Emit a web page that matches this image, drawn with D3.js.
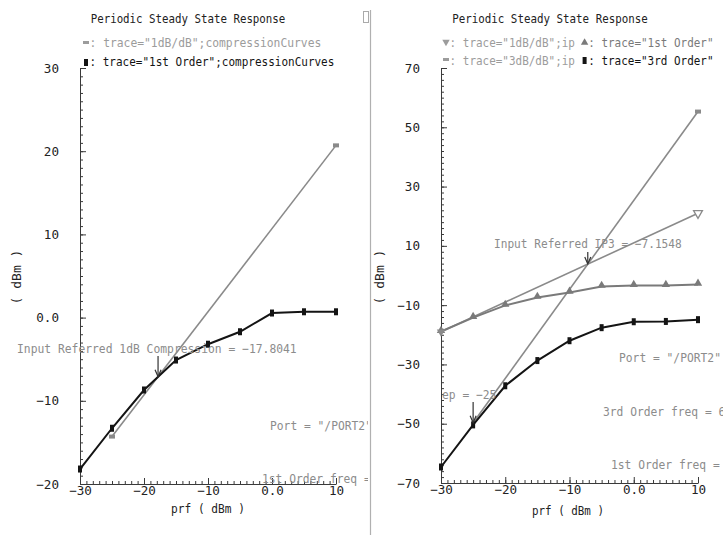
<!DOCTYPE html>
<html><head><meta charset="utf-8">
<script src="https://cdn.jsdelivr.net/npm/d3@7"></script>
<style>
body{margin:0;background:#fff}
svg{display:block}
text{font-family:"DejaVu Sans Mono","Liberation Mono",monospace}
</style>
</head><body>
<svg id="c" width="723" height="535"></svg>
<script>
// ---------- data ----------
const prf = [-30, -25, -20, -15, -10, -5, 0, 5, 10];
// left: compression curves
const compFirstOrder = [-18.2, -13.3, -8.7, -5.1, -3.2, -1.7, 0.55, 0.7, 0.7];
const compLinearX = [-25, 10];
const compLinear = [-14.3, 20.7];
const compPoint = -17.8041;
// right: IP3
const ip1stOrder = [-18.9, -14.2, -10.1, -7.4, -5.7, -3.7, -3.4, -3.4, -3.0];
const ip3rdOrder = [-64.6, -50.4, -37.2, -28.7, -22.0, -17.6, -15.6, -15.5, -14.9];
const ip1dBX = [-30, 10];
const ip1dB = [-19.0, 21.0];
const ip3dBX = [-25, 10];
const ip3dB = [-49.7, 55.3];
const ip3Point = -7.1548;
const interceptPoint = -25;
// ticks
const xTicks = [-30, -20, -10, 0, 10];
const xTickLabels = ["\u221230", "\u221220", "\u221210", "0.0", "10"];
const leftYTicks = [30, 20, 10, 0, -10, -20];
const leftYTickLabels = ["30", "20", "10", "0.0", "\u221210", "\u221220"];
const rightYTicks = [70, 50, 30, 10, -10, -30, -50, -70];
const rightYTickLabels = ["70", "50", "30", "10", "\u221210", "\u221230", "\u221250", "\u221270"];

const BLACK = "#141414", GRAY = "#8a8a8a", LGRAY = "#9c9c9c", AX = "#3a3a3a", ANN = "#8c8c8c";
const FONT = '"DejaVu Sans Mono","Liberation Mono",monospace';
const ADV = 0.602; // DejaVu Sans Mono advance per em
const svg = d3.select("#c");
svg.append("rect").attr("width", 723).attr("height", 535).attr("fill", "#fff");

const defs = svg.append("defs");
defs.append("clipPath").attr("id", "clipL").append("rect").attr("x", 0).attr("y", 0).attr("width", 368).attr("height", 535);
defs.append("clipPath").attr("id", "clipRp").append("rect").attr("x", 441).attr("y", 0).attr("width", 282).attr("height", 535);

// separator
svg.append("line").attr("x1", 370.5).attr("x2", 370.5).attr("y1", 10).attr("y2", 535)
  .attr("stroke", "#b0b0b0").attr("stroke-width", 1.2);
svg.append("rect").attr("x", 363.5).attr("y", 11.5).attr("width", 5).attr("height", 11)
  .attr("fill", "none").attr("stroke", "#aaa").attr("stroke-width", 1);

// text helper: target width w (px) or per-char advance adv; glyph height kept like a 12.5px font
function T(g, x, y, s, o = {}) {
  const base = o.size || 12.5;
  const w = o.w || (o.adv ? s.length * o.adv : null);
  const fs = w ? w / (s.length * ADV) : base;
  const k = base / fs;
  return g.append("text").attr("transform", `translate(${x},${y}) scale(1,${k.toFixed(4)})`)
    .text(s).attr("font-size", fs.toFixed(3)).attr("fill", o.fill || "#222")
    .attr("text-anchor", o.anchor || "start");
}

function axes(g, x, y, yTicks, yLabels, yMinorStep, yDomain) {
  const xMinor = d3.range(-30, 10.001, 1);
  const yMinor = d3.range(yDomain[0], yDomain[1] + 0.001, yMinorStep);
  const y0 = y(yDomain[0]);
  g.append("g").attr("transform", `translate(0,${y0})`)
    .call(d3.axisBottom(x).tickValues(xMinor).tickSize(-3).tickFormat(""))
    .call(a => a.select(".domain").remove())
    .call(a => a.selectAll("line").attr("stroke", AX));
  g.append("g").attr("transform", `translate(${x(-30)},0)`)
    .call(d3.axisLeft(y).tickValues(yMinor).tickSize(-3).tickFormat(""))
    .call(a => a.select(".domain").remove())
    .call(a => a.selectAll("line").attr("stroke", AX));
  g.append("g").attr("transform", `translate(0,${y0})`)
    .call(d3.axisBottom(x).tickValues(xTicks).tickSizeInner(-6).tickSizeOuter(0).tickPadding(2)
      .tickFormat((d, i) => xTickLabels[i]))
    .call(a => a.select(".domain").attr("stroke", AX))
    .call(a => a.selectAll("line").attr("stroke", AX))
    .call(a => a.selectAll("text").attr("fill", "#222").attr("font-size", 12.6).attr("font-family", FONT));
  g.append("g").attr("transform", `translate(${x(-30)},0)`)
    .call(d3.axisLeft(y).tickValues(yTicks).tickSizeInner(-6).tickSizeOuter(0).tickPadding(21)
      .tickFormat((d, i) => yLabels[i]))
    .call(a => a.select(".domain").attr("stroke", AX))
    .call(a => a.selectAll("line").attr("stroke", AX))
    .call(a => a.selectAll("text").attr("fill", "#222").attr("font-size", 12.6).attr("font-family", FONT));
}

function arrow(g, x, yFrom, yTo) {
  g.append("line").attr("x1", x).attr("x2", x).attr("y1", yFrom).attr("y2", yTo - 1)
    .attr("stroke", "#333").attr("stroke-width", 1.2);
  g.append("path").attr("d", `M${x - 3},${yTo - 7}L${x},${yTo}L${x + 3},${yTo - 7}`)
    .attr("fill", "none").attr("stroke", "#333").attr("stroke-width", 1.2);
}

// ================= LEFT =================
{
  const g = svg.append("g");
  const yDom = [-20, 30];
  const x = d3.scaleLinear().domain([-30, 10]).range([80, 336]);
  const y = d3.scaleLinear().domain(yDom).range([484, 68]);
  T(g, 188, 22.5, "Periodic Steady State Response", {anchor: "middle", w: 195});
  // legend
  g.append("rect").attr("x", 83).attr("y", 41).attr("width", 6).attr("height", 3).attr("fill", LGRAY);
  T(g, 89.5, 47, ': trace="1dB/dB";compressionCurves', {fill: LGRAY, w: 232});
  g.append("rect").attr("x", 84).attr("y", 59).attr("width", 4).attr("height", 7).attr("fill", BLACK);
  T(g, 89.5, 65.5, ': trace="1st Order";compressionCurves', {fill: BLACK, w: 245});

  axes(g, x, y, leftYTicks, leftYTickLabels, 1, yDom);
  g.append("text").attr("transform", "translate(21,277) rotate(-90)").attr("text-anchor", "middle")
    .attr("font-size", 13).attr("fill", "#222").text("( dBm )");
  T(g, 208, 513, "prf ( dBm )", {anchor: "middle", w: 74});

  const line = d3.line().x(d => x(d[0])).y(d => y(d[1]));
  const lin = compLinearX.map((v, i) => [v, compLinear[i]]);
  g.append("path").attr("d", line(lin)).attr("fill", "none").attr("stroke", GRAY).attr("stroke-width", 1.6);
  g.selectAll(".lm").data(lin).join("rect").attr("x", d => x(d[0]) - 3).attr("y", d => y(d[1]) - 2)
    .attr("width", 6).attr("height", 4).attr("fill", GRAY);
  const fo = prf.map((v, i) => [v, compFirstOrder[i]]);
  g.append("path").attr("d", line(fo)).attr("fill", "none").attr("stroke", BLACK).attr("stroke-width", 2);
  g.selectAll(".fm").data(fo).join("rect").attr("x", d => x(d[0]) - 2).attr("y", d => y(d[1]) - 3.5)
    .attr("width", 4).attr("height", 7).attr("fill", BLACK);

  // annotation
  const slope = (compLinear[1] - compLinear[0]) / (compLinearX[1] - compLinearX[0]);
  const vAt = compLinear[0] + slope * (compPoint - compLinearX[0]);
  const ga = g.append("g").attr("clip-path", "url(#clipL)");
  T(ga, 17, 353, "Input Referred 1dB Compression = \u221217.8041", {fill: ANN, w: 280});
  arrow(ga, x(compPoint), 356, y(vAt));
  T(ga, 270, 430, 'Port = "/PORT2"', {fill: ANN, adv: 6.8});
  T(ga, 262, 482.5, "1st Order freq = 6", {fill: ANN, adv: 6.8});
}

// ================= RIGHT =================
{
  const g = svg.append("g");
  const yDom = [-70, 70];
  const x = d3.scaleLinear().domain([-30, 10]).range([441, 698]);
  const y = d3.scaleLinear().domain(yDom).range([483, 68]);
  T(g, 550, 22.5, "Periodic Steady State Response", {anchor: "middle", w: 196});
  // legend (monospace cells)
  const adv = 6.6, lx = 443;
  g.append("path").attr("transform", `translate(${lx + 3},42) rotate(180)`).attr("d", d3.symbol(d3.symbolTriangle, 24)())
    .attr("fill", LGRAY);
  T(g, lx + adv, 46.5, ': trace="1dB/dB";ip', {fill: LGRAY, adv});
  g.append("path").attr("transform", `translate(${lx + 21 * adv + 3},42.5)`).attr("d", d3.symbol(d3.symbolTriangle, 24)())
    .attr("fill", "#7a7a7a");
  T(g, lx + 22 * adv, 46.5, ': trace="1st Order"', {fill: "#7a7a7a", adv});
  g.append("rect").attr("x", lx).attr("y", 58).attr("width", 6).attr("height", 3).attr("fill", LGRAY);
  T(g, lx + adv, 64.5, ': trace="3dB/dB";ip', {fill: LGRAY, adv});
  g.append("rect").attr("x", lx + 21 * adv + 1).attr("y", 57).attr("width", 4).attr("height", 7).attr("fill", BLACK);
  T(g, lx + 22 * adv, 64.5, ': trace="3rd Order"', {fill: BLACK, adv});

  axes(g, x, y, rightYTicks, rightYTickLabels, 2, yDom);
  g.append("text").attr("transform", "translate(384,277) rotate(-90)").attr("text-anchor", "middle")
    .attr("font-size", 13).attr("fill", "#222").text("( dBm )");
  T(g, 568, 515, "prf ( dBm )", {anchor: "middle", w: 72});

  const line = d3.line().x(d => x(d[0])).y(d => y(d[1]));
  const l1 = ip1dBX.map((v, i) => [v, ip1dB[i]]);
  const l3 = ip3dBX.map((v, i) => [v, ip3dB[i]]);
  const fo = prf.map((v, i) => [v, ip1stOrder[i]]);
  const to = prf.map((v, i) => [v, ip3rdOrder[i]]);
  g.append("path").attr("d", line(l1)).attr("fill", "none").attr("stroke", GRAY).attr("stroke-width", 1.6);
  g.append("path").attr("d", line(l3)).attr("fill", "none").attr("stroke", GRAY).attr("stroke-width", 1.6);
  g.append("path").attr("d", line(fo)).attr("fill", "none").attr("stroke", "#7a7a7a").attr("stroke-width", 2);
  g.append("path").attr("d", line(to)).attr("fill", "none").attr("stroke", BLACK).attr("stroke-width", 2);
  g.selectAll(".tu").data(fo).join("path")
    .attr("transform", d => `translate(${x(d[0])},${y(d[1]) - 1})`)
    .attr("d", d3.symbol(d3.symbolTriangle, 30)()).attr("fill", "#7a7a7a");
  g.selectAll(".td").data([l1[1]]).join("path")
    .attr("transform", d => `translate(${x(d[0])},${y(d[1])}) rotate(180)`)
    .attr("d", d3.symbol(d3.symbolTriangle, 34)()).attr("fill", "#fff").attr("stroke", GRAY).attr("stroke-width", 1.3);
  g.selectAll(".td0").data([l1[0]]).join("path")
    .attr("transform", d => `translate(${x(d[0])},${y(d[1])}) rotate(180)`)
    .attr("d", d3.symbol(d3.symbolTriangle, 30)()).attr("fill", GRAY);
  g.selectAll(".m3").data([l3[1]]).join("rect").attr("x", d => x(d[0]) - 3).attr("y", d => y(d[1]) - 2)
    .attr("width", 6).attr("height", 4).attr("fill", GRAY);
  g.selectAll(".bm").data(to).join("rect").attr("x", d => x(d[0]) - 2).attr("y", d => y(d[1]) - 3.5)
    .attr("width", 4).attr("height", 7).attr("fill", BLACK);

  // annotations
  const ipV = ip1dB[0] + (ip3Point - ip1dBX[0]);
  T(g, 494, 248, "Input Referred IP3 = \u22127.1548", {fill: ANN, w: 188});
  arrow(g, x(ip3Point), 252, y(ipV));
  const gc = g.append("g").attr("clip-path", "url(#clipRp)");
  T(gc, 442, 399, "ep = \u221225", {fill: ANN, adv: 6.8});
  const icV = ip3dB[0] + 3 * (interceptPoint - ip3dBX[0]);
  arrow(g, x(interceptPoint), 402, y(icV));
  T(g, 619, 362, 'Port = "/PORT2"', {fill: ANN, adv: 6.8});
  T(g, 603, 416, "3rd Order freq = 6", {fill: ANN, adv: 6.8});
  T(g, 611, 469, "1st Order freq = 6", {fill: ANN, adv: 6.8});
}
</script>
</body></html>
